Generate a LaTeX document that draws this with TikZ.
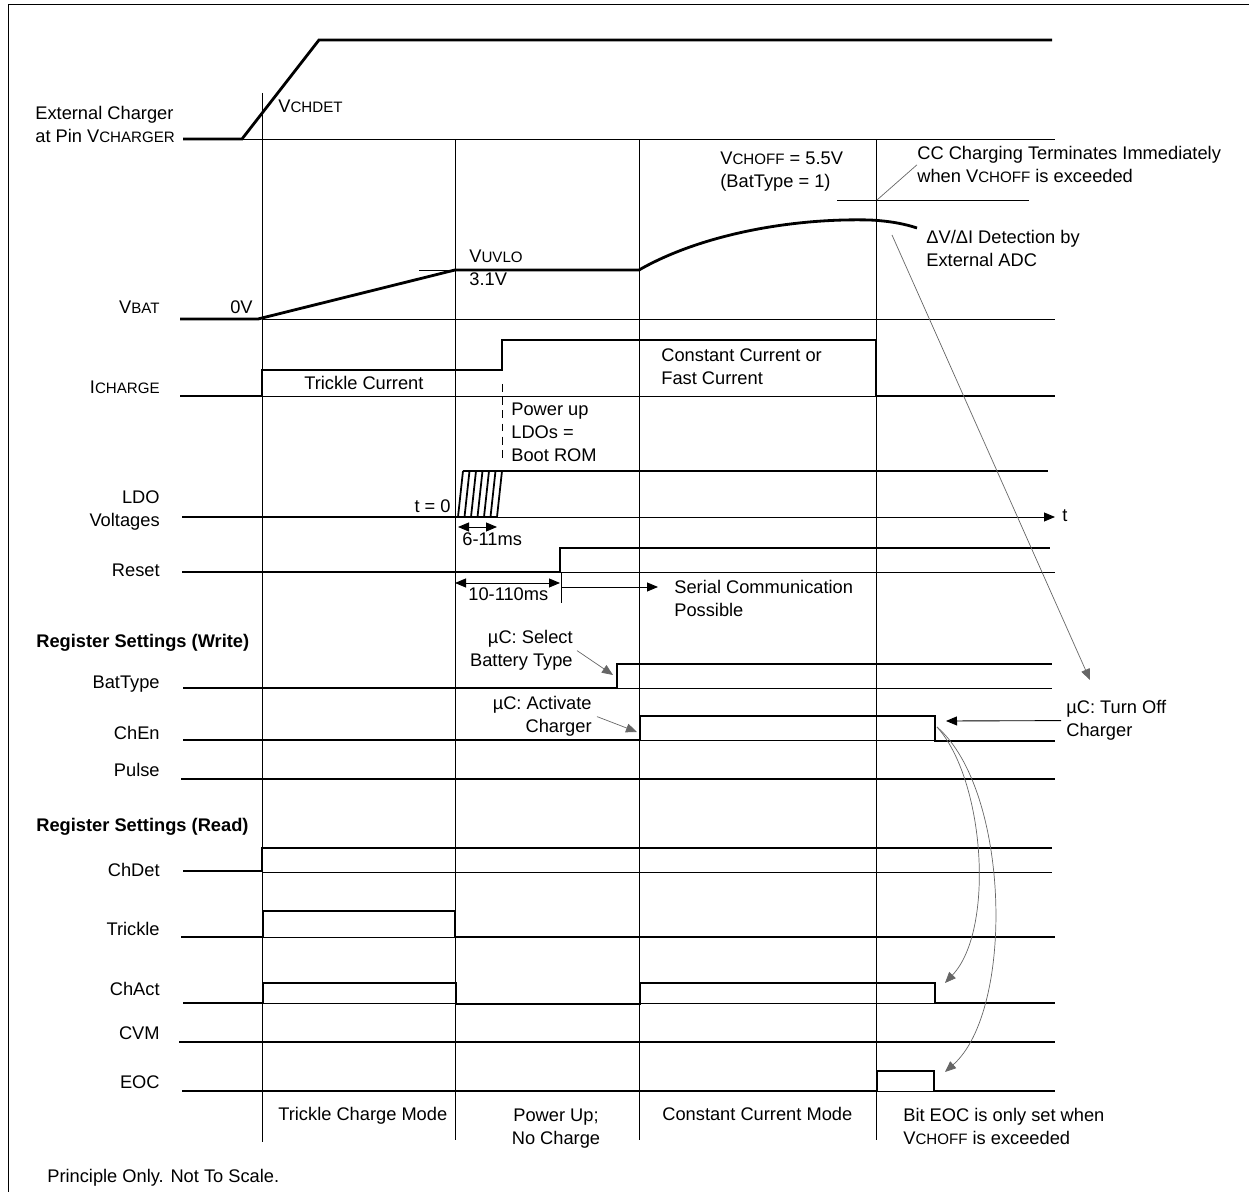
\documentclass[tikz,border=0pt]{standalone}
\usepackage{fontspec}
\setmainfont{Liberation Sans}
\usetikzlibrary{arrows.meta,positioning}

\newcommand{\pinlbl}[2]{#1{\fontsize{8.6}{10}\selectfont #2}}

\begin{document}
\begin{tikzpicture}[x=0.02cm, y=-0.02cm,
  every node/.style={inner sep=0pt, font=\fontsize{10.4}{13.3}\selectfont},
  wave/.style={line width=1.6pt, line join=miter},
  grid/.style={line width=0.5pt},
  lead/.style={line width=0.4pt, black!60},
  tip/.style={-{Triangle[length=2.2mm,width=1.8mm]}},
  dimline/.style={grid, {Triangle[length=2.2mm,width=1.8mm]}-{Triangle[length=2.2mm,width=1.8mm]}},
  sig/.style={anchor=base east},
  note/.style={anchor=base west, align=left}
]
  \useasboundingbox (0,0) rectangle (1249,1192);
  \draw[grid] (8,1192) -- (8,4) -- (1249,4);

  % phase borders
  \draw[grid] (262,93) -- (262,1142);
  \foreach \x in {455,639,876}
    \draw[grid] (\x,140) -- (\x,1140);

  % reference levels
  \draw[grid] (213,139) -- (1055,139);
  \draw[grid] (837,200) -- (1029,200);
  \draw[grid] (419,270) -- (455,270);
  \draw[grid] (262,319) -- (1055,319);
  \draw[grid] (262,396) -- (1055,396);
  \draw[grid] (560,572) -- (1055,572);
  \draw[grid] (561,572) -- (561,603);
  \draw[grid] (617,688) -- (1052,688);
  \draw[grid] (640,740) -- (935,740);
  \draw[grid] (262,872) -- (1052,872);
  \draw[grid] (263,937) -- (455,937);
  \draw[grid] (263,1003) -- (456,1003) (640,1003) -- (935,1003);
  \draw[grid] (877,1091) -- (934,1091);
  \draw[grid, dash pattern=on 4.5pt off 3pt] (502,384) -- (502,460);

  % waveforms
  \draw[wave] (183,139) -- (242,139) -- (319,40) -- (1052,40);
  \draw[wave] (180,319) -- (258,319) -- (455,270) -- (639,270)
    .. controls (700,235) and (790,218) .. (870,220)
    .. controls (890,221) and (905,224) .. (917,228);
  \draw[wave] (180,396) -| (262,370) -| (502,340) -| (876,396) -- (1055,396);
  \draw[wave] (182,517) -- (497,517);
  \draw[wave] (463,471) -- (1048,471);
  \foreach \i in {0,...,6}
    \draw[line width=1pt] ({458+6.5*\i},517) -- ({463+6.5*\i},471);
  \draw[wave] (182,572) -| (560,548) -- (1050,548);
  \draw[wave] (183,688) -| (617,664) -- (1052,664);
  \draw[wave] (183,740) -| (640,716) -| (935,741) -- (1055,741);
  \draw[wave] (181,779) -- (1055,779);
  \draw[wave] (183,871) -| (262,848) -- (1052,848);
  \draw[wave] (181,937) -| (263,911) -| (455,937) -- (1055,937);
  \draw[wave] (183,1003) -| (263,983) -| (456,1004) -| (640,983) -| (935,1003) -- (1055,1003);
  \draw[wave] (179,1042) -- (1055,1042);
  \draw[wave] (182,1091) -| (877,1071) -| (934,1091) -- (1055,1091);

  % labels (multi-line ones sit on the baseline of their last line)
  \node[note] (extchg) at (35,143) {External Charger\\at Pin \pinlbl{V}{CHARGER}};
  \node[note] (vchdet) at (278,113) {\pinlbl{V}{CHDET}};
  \node[sig] (vbat) at (160,314) {\pinlbl{V}{BAT}};
  \node[sig] (zerov) at (253,314) {0V};
  \node[note] (vuvlo) at (469,286) {\pinlbl{V}{UVLO}\\3.1V};
  \node[note] (vchoff) at (720,188) {\pinlbl{V}{CHOFF} = 5.5V\\(BatType = 1)};
  \node[note] (ccterm) at (917,183) {CC Charging Terminates Immediately\\when \pinlbl{V}{CHOFF} is exceeded};
  \node[note] (dvdi) at (926,267) {ΔV/ΔI Detection by\\External ADC};
  \node[sig] (icharge) at (160,394) {\pinlbl{I}{CHARGE}};
  \node[note] (trcur) at (304,390) {Trickle Current};
  \node[note] (cccur) at (661,385) {Constant Current or\\Fast Current};
  \node[note] (pwrup) at (511,462) {Power up\\LDOs =\\Boot ROM};
  \node[sig, align=right] (ldo) at (160,527) {LDO\\Voltages};
  \node[sig] (tzero) at (451,513) {t = 0};
  \node[note] (tlbl) at (1062,522) {t};
  \node[note] (dly6) at (462,546) {6-11ms};
  \node[sig] (reset) at (160,577) {Reset};
  \node[note] (dly10) at (468,601) {10-110ms};
  \node[note] (serial) at (674,617) {Serial Communication\\Possible};
  \node[note] (regw) at (36,648) {\bfseries Register Settings (Write)};
  \node[sig] (battype) at (160,689) {BatType};
  \node[sig, align=right] (selbat) at (573,667) {µC: Select\\Battery Type};
  \node[sig] (chen) at (160,740) {ChEn};
  \node[sig, align=right] (actchg) at (592,733) {µC: Activate\\Charger};
  \node[note] (turnoff) at (1066,737) {µC: Turn Off\\Charger};
  \node[sig] (pulse) at (160,777) {Pulse};
  \node[note] (regr) at (36,832) {\bfseries Register Settings (Read)};
  \node[sig] (chdet) at (160,877) {ChDet};
  \node[sig] (trickle) at (160,936) {Trickle};
  \node[sig] (chact) at (160,996) {ChAct};
  \node[sig] (cvm) at (160,1040) {CVM};
  \node[sig] (eoc) at (160,1089) {EOC};
  \node[note] (tcm) at (278,1121) {Trickle Charge Mode};
  \node[anchor=base, align=center] (pwrnc) at (556,1145) {Power Up;\\No Charge};
  \node[note] (ccm) at (662,1121) {Constant Current Mode};
  \node[note] (eocnote) at (903,1145) {Bit EOC is only set when\\\pinlbl{V}{CHOFF} is exceeded};
  \node[note] (princ) at (47,1182) {Principle Only. Not To Scale.};

  % arrow ends
  \coordinate (vchoffx) at (877,200);
  \coordinate (adcsrc) at (892,235);
  \coordinate (adctip) at (1090,680);
  \coordinate (battip) at (613,675);
  \coordinate (chgtip) at (637,732);
  \coordinate (offtip) at (946,721);
  \coordinate (chenfall) at (937,727);
  \coordinate (chacttip) at (945,983);
  \coordinate (eoctip) at (945,1072);
  \coordinate (axisend) at (1055,517);
  \coordinate (serialtip) at (658,587);

  % arrows
  \draw[grid, tip] (458,517) -- (axisend);
  \draw[dimline] (458,527) -- (497,527);
  \draw[dimline] (455,583) -- (560,583);
  \draw[grid, tip] (561,587) -- (serialtip);
  \draw[lead] (vchoffx) -- (ccterm.west);
  \draw[lead, tip] (adcsrc) -- (adctip);
  \draw[lead, tip] ([xshift=0.08cm]selbat.east) -- (battip);
  \draw[lead, tip] ([xshift=0.1cm]actchg.east) -- (chgtip);
  \draw[grid, tip] ([xshift=-0.1cm]turnoff.west) -- (offtip);
  \draw[lead, tip] (chenfall) .. controls (985,780) and (995,930) .. (chacttip);
  \draw[lead, tip] (chenfall) .. controls (1010,790) and (1015,1010) .. (eoctip);
\end{tikzpicture}
\end{document}
